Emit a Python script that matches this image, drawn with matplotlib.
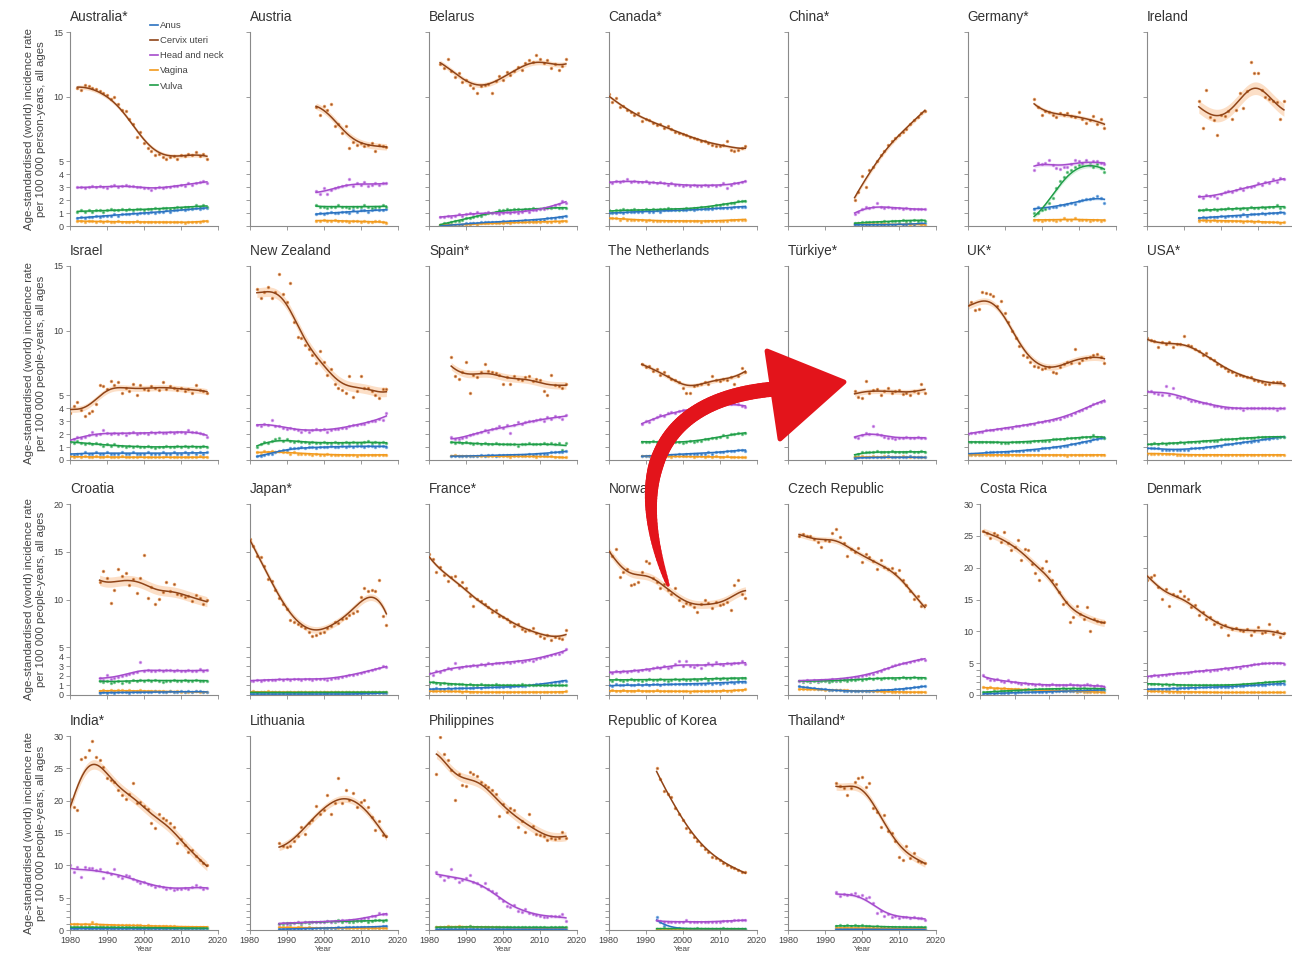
import numpy as np
import matplotlib
matplotlib.use('Agg')
import matplotlib.pyplot as plt
from matplotlib.collections import LineCollection
from matplotlib.patches import Polygon
from matplotlib.lines import Line2D

plt.rcParams['font.family'] = ['Liberation Sans', 'DejaVu Sans']

# %% datos: tasas anuales (por 100 000)

series_nombres = ['Anus', 'Cervix uteri', 'Head and neck', 'Vagina', 'Vulva']
series_claves = ['anus', 'cervix', 'head', 'vagina', 'vulva']

australia = dict(start=1982,
    cervix=[10.7,10.5,10.9,10.8,10.7,10.6,10.4,10.3,10.1,9.8,10.0,9.4,9.0,8.9,8.3,7.9,6.9,7.3,6.4,6.0,5.8,5.5,5.6,5.3,5.2,5.3,5.4,5.2,5.5,5.4,5.6,5.5,5.7,5.4,5.6,5.2],
    head=[3.0,3.0,2.9,3.0,3.1,3.0,3.1,3.0,2.9,3.1,3.2,3.0,3.1,3.2,3.1,3.1,3.0,3.0,2.9,2.9,2.8,2.9,3.0,2.9,3.0,3.0,3.1,3.1,3.2,3.1,3.3,3.2,3.3,3.4,3.5,3.3],
    anus=[0.6,0.7,0.6,0.7,0.7,0.8,0.7,0.8,0.8,0.8,0.9,0.8,0.9,0.9,0.9,1.0,0.9,1.0,1.0,1.0,1.1,1.0,1.1,1.1,1.2,1.1,1.2,1.2,1.3,1.2,1.3,1.3,1.4,1.3,1.4,1.4],
    vagina=[0.4,0.4,0.3,0.4,0.4,0.3,0.4,0.3,0.4,0.3,0.3,0.4,0.3,0.3,0.3,0.3,0.4,0.3,0.3,0.3,0.3,0.3,0.3,0.3,0.3,0.3,0.3,0.3,0.3,0.2,0.3,0.3,0.3,0.3,0.4,0.4],
    vulva=[1.1,1.2,1.1,1.2,1.1,1.2,1.2,1.1,1.2,1.3,1.2,1.2,1.3,1.2,1.3,1.2,1.3,1.3,1.2,1.3,1.3,1.4,1.3,1.4,1.4,1.3,1.4,1.5,1.4,1.5,1.5,1.4,1.6,1.5,1.6,1.5])

austria = dict(start=1998,
    cervix=[9.2,8.6,9.3,9.0,9.4,7.7,7.9,7.2,7.7,6.0,6.5,6.3,6.4,6.2,6.3,6.4,5.8,6.3,6.2,6.1],
    head=[2.7,2.5,2.9,2.5,2.8,2.9,3.0,3.1,3.2,3.6,3.1,3.3,3.2,3.4,3.1,3.2,3.3,3.2,3.3,3.3],
    anus=[0.9,1.0,0.9,1.0,1.1,1.0,1.0,1.1,1.1,1.0,1.2,1.1,1.2,1.2,1.1,1.2,1.3,1.2,1.2,1.3],
    vagina=[0.4,0.4,0.5,0.4,0.4,0.5,0.4,0.4,0.4,0.3,0.4,0.4,0.3,0.4,0.3,0.3,0.4,0.4,0.3,0.2],
    vulva=[1.6,1.5,1.5,1.4,1.5,1.5,1.6,1.5,1.5,1.4,1.5,1.5,1.5,1.6,1.5,1.4,1.5,1.5,1.6,1.5])

belarus = dict(start=1983,
    cervix=[12.5,12.2,12.9,12.0,11.5,11.8,11.1,11.3,10.9,10.7,10.3,10.8,10.9,11.0,10.3,11.2,11.6,11.3,11.9,11.7,12.0,12.3,12.1,12.6,12.8,12.7,13.2,12.9,12.6,12.8,12.2,12.5,12.1,12.4,12.9],
    head=[0.7,0.7,0.8,0.7,0.8,0.9,0.8,0.9,1.0,0.9,1.1,0.9,1.0,1.1,1.0,1.0,0.9,1.0,1.1,1.0,1.1,1.0,1.1,1.2,1.1,1.2,1.2,1.3,1.3,1.4,1.5,1.6,1.7,1.9,1.8],
    anus=[0.0,0.0,0.1,0.1,0.1,0.1,0.1,0.2,0.2,0.2,0.2,0.3,0.3,0.3,0.3,0.3,0.3,0.4,0.3,0.4,0.4,0.4,0.4,0.5,0.4,0.5,0.5,0.5,0.5,0.6,0.6,0.6,0.7,0.7,0.8],
    vagina=[0.1,0.1,0.1,0.1,0.1,0.1,0.1,0.1,0.1,0.2,0.1,0.2,0.2,0.2,0.2,0.2,0.2,0.2,0.3,0.2,0.3,0.3,0.3,0.3,0.3,0.3,0.3,0.3,0.4,0.3,0.3,0.4,0.3,0.4,0.4],
    vulva=[0.1,0.2,0.2,0.3,0.4,0.4,0.5,0.6,0.6,0.7,0.8,0.8,0.9,1.0,1.0,1.1,1.2,1.2,1.3,1.2,1.3,1.3,1.2,1.3,1.3,1.4,1.3,1.3,1.4,1.4,1.4,1.5,1.4,1.4,1.4])

canada = dict(start=1980,
    cervix=[10.2,9.6,9.9,9.2,9.3,9.0,8.8,8.6,8.7,8.1,8.3,8.2,8.0,7.8,7.9,7.6,7.7,7.5,7.3,7.2,7.1,7.0,6.9,6.8,6.7,6.6,6.6,6.4,6.3,6.2,6.2,6.3,6.6,5.9,5.8,5.9,6.0,6.2],
    head=[3.4,3.3,3.5,3.4,3.5,3.6,3.4,3.5,3.4,3.4,3.5,3.3,3.4,3.3,3.4,3.3,3.2,3.3,3.2,3.2,3.1,3.2,3.1,3.2,3.1,3.1,3.2,3.1,3.2,3.1,3.2,3.3,2.9,3.2,3.3,3.3,3.4,3.5],
    anus=[1.0,1.0,1.0,1.1,1.0,1.1,1.1,1.1,1.1,1.1,1.2,1.1,1.1,1.2,1.1,1.2,1.2,1.2,1.2,1.2,1.2,1.2,1.3,1.2,1.3,1.3,1.3,1.3,1.3,1.4,1.4,1.4,1.4,1.4,1.5,1.5,1.5,1.5],
    vagina=[0.6,0.6,0.6,0.5,0.6,0.5,0.5,0.5,0.5,0.5,0.4,0.5,0.4,0.4,0.4,0.4,0.4,0.4,0.4,0.4,0.4,0.4,0.4,0.4,0.4,0.3,0.4,0.4,0.4,0.4,0.4,0.4,0.4,0.5,0.5,0.5,0.5,0.5],
    vulva=[1.2,1.1,1.2,1.2,1.3,1.2,1.2,1.3,1.2,1.2,1.3,1.2,1.3,1.2,1.3,1.3,1.4,1.3,1.3,1.2,1.3,1.4,1.3,1.4,1.4,1.5,1.4,1.5,1.5,1.6,1.6,1.7,1.7,1.8,1.8,1.9,1.9,1.9])

china = dict(start=1998,
    cervix=[2.0,2.6,3.9,3.0,4.3,4.6,5.0,5.5,5.8,6.3,6.6,6.8,7.0,7.3,7.5,7.9,8.2,8.4,8.7,8.9],
    head=[0.9,1.1,1.3,1.5,1.4,1.5,1.8,1.5,1.4,1.5,1.4,1.4,1.4,1.3,1.4,1.3,1.3,1.3,1.3,1.3],
    anus=[0.1,0.1,0.1,0.1,0.1,0.1,0.1,0.1,0.1,0.1,0.1,0.1,0.2,0.1,0.1,0.2,0.1,0.2,0.2,0.2],
    vagina=[0.1,0.2,0.1,0.1,0.1,0.2,0.1,0.1,0.2,0.1,0.1,0.1,0.2,0.1,0.2,0.1,0.1,0.2,0.1,0.1],
    vulva=[0.2,0.2,0.3,0.3,0.3,0.3,0.3,0.3,0.4,0.3,0.4,0.4,0.4,0.5,0.4,0.4,0.5,0.4,0.5,0.4])

germany = dict(start=1998,
    cervix=[9.8,9.2,8.6,8.9,8.8,8.6,8.4,8.7,8.6,8.7,8.5,8.4,8.8,8.3,8.0,8.2,8.5,7.9,8.3,7.6],
    head=[4.3,4.9,4.8,4.9,5.1,4.7,4.5,4.4,4.6,4.6,4.8,5.1,5.0,4.9,5.1,4.7,5.0,5.0,4.9,4.8],
    anus=[1.3,1.5,1.3,1.4,1.4,1.5,1.5,1.6,1.6,1.7,1.8,1.7,1.9,2.0,2.1,2.1,2.2,2.3,2.2,1.8],
    vagina=[0.5,0.5,0.4,0.5,0.5,0.5,0.4,0.5,0.6,0.5,0.5,0.6,0.5,0.5,0.5,0.4,0.5,0.5,0.4,0.5],
    vulva=[1.0,1.0,1.2,1.3,1.8,2.2,2.9,3.5,3.8,4.2,4.3,4.6,4.7,4.8,5.0,4.8,4.6,4.8,4.5,4.2])

ireland = dict(start=1994,
    cervix=[9.7,7.6,10.5,8.4,8.2,7.0,8.6,8.5,8.9,8.3,9.0,10.3,9.1,10.4,12.7,11.8,11.8,10.5,10.0,9.8,9.7,9.6,8.3,9.7],
    head=[2.3,2.2,2.4,2.3,2.3,2.2,2.5,2.6,2.7,2.6,2.8,2.9,2.8,3.0,3.0,3.1,3.3,3.2,3.4,3.3,3.6,3.4,3.7,3.6],
    anus=[0.6,0.7,0.6,0.7,0.7,0.7,0.8,0.7,0.8,0.8,0.8,0.8,0.9,0.8,0.9,0.9,0.9,1.0,0.9,1.0,1.0,1.0,1.1,1.0],
    vagina=[0.4,0.5,0.4,0.4,0.5,0.4,0.4,0.4,0.4,0.4,0.4,0.4,0.3,0.4,0.4,0.3,0.4,0.3,0.3,0.3,0.3,0.3,0.2,0.3],
    vulva=[1.2,1.2,1.3,1.2,1.3,1.2,1.3,1.3,1.4,1.3,1.4,1.3,1.4,1.3,1.5,1.4,1.4,1.5,1.4,1.5,1.5,1.6,1.4,1.5])

israel = dict(start=1980,
    cervix=[3.6,4.2,4.5,3.9,3.4,3.6,3.8,4.3,5.8,5.7,5.5,6.1,5.8,6.0,5.2,5.6,5.3,5.9,5.0,5.8,5.5,5.4,5.7,5.6,5.4,6.0,5.5,5.7,5.6,5.4,5.6,5.3,5.5,5.2,5.8,5.4,5.3,5.2],
    head=[1.5,1.6,1.8,1.7,1.8,1.9,2.2,1.9,2.0,2.3,2.1,2.0,2.1,2.0,2.1,1.9,2.1,2.2,2.0,2.1,2.1,2.0,2.2,2.1,2.2,2.1,2.1,2.2,2.1,2.2,2.2,2.1,2.3,2.2,2.2,2.1,2.0,1.8],
    anus=[0.5,0.4,0.5,0.5,0.6,0.5,0.5,0.6,0.5,0.5,0.6,0.5,0.5,0.5,0.6,0.5,0.5,0.6,0.5,0.5,0.5,0.6,0.5,0.5,0.5,0.6,0.5,0.5,0.6,0.5,0.5,0.6,0.5,0.6,0.5,0.6,0.5,0.6],
    vagina=[0.3,0.2,0.3,0.2,0.3,0.2,0.2,0.3,0.2,0.2,0.3,0.2,0.2,0.2,0.3,0.2,0.2,0.2,0.2,0.3,0.2,0.2,0.2,0.2,0.2,0.2,0.3,0.2,0.2,0.2,0.2,0.2,0.2,0.2,0.2,0.3,0.2,0.2],
    vulva=[1.4,1.3,1.5,1.3,1.2,1.3,1.2,1.3,1.2,1.1,1.2,1.1,1.2,1.1,1.1,1.0,1.1,1.0,1.1,1.0,1.0,1.1,1.0,0.9,1.0,1.0,1.1,1.0,1.0,1.1,1.0,1.1,1.0,1.1,1.0,1.0,1.1,1.0])

new_zealand = dict(start=1982,
    cervix=[13.2,12.5,13.0,13.4,12.5,13.0,14.4,12.8,12.2,13.7,10.7,9.5,9.4,8.9,8.6,8.1,7.5,8.4,7.6,6.6,7.0,5.9,5.6,5.4,5.2,6.5,4.9,5.3,6.5,5.6,5.6,5.3,5.0,4.8,5.5,5.5],
    head=[2.7,2.6,2.8,2.7,3.1,2.6,2.6,2.5,2.4,2.5,2.4,2.3,2.2,2.3,2.2,2.3,2.4,2.3,2.4,2.2,2.3,2.4,2.4,2.5,2.5,2.6,2.7,2.7,2.8,2.8,2.9,3.0,3.0,3.2,3.1,3.6],
    anus=[0.3,0.3,0.4,0.5,0.5,0.6,0.7,0.8,0.8,0.9,0.9,0.9,1.0,0.9,1.0,1.0,0.9,1.0,1.0,1.0,1.1,1.0,1.0,1.1,1.0,1.1,1.0,1.1,1.1,1.0,1.1,1.1,1.0,1.1,1.1,1.0],
    vagina=[0.6,0.5,0.7,0.6,0.7,0.6,0.7,0.6,0.6,0.5,0.6,0.5,0.5,0.5,0.5,0.4,0.5,0.4,0.4,0.5,0.4,0.4,0.4,0.4,0.4,0.4,0.4,0.3,0.4,0.4,0.4,0.4,0.4,0.4,0.4,0.4],
    vulva=[1.0,1.2,1.4,1.3,1.5,1.6,1.7,1.5,1.6,1.5,1.4,1.5,1.4,1.4,1.3,1.4,1.3,1.3,1.4,1.3,1.3,1.4,1.3,1.3,1.4,1.3,1.4,1.3,1.3,1.4,1.5,1.3,1.4,1.3,1.4,1.3])

spain = dict(start=1986,
    cervix=[8.0,6.5,6.3,6.8,7.6,5.2,6.6,6.4,6.8,7.4,6.9,6.8,6.7,6.6,5.9,6.4,5.9,6.5,6.3,6.2,6.4,6.5,6.1,6.3,6.2,5.3,5.0,6.6,5.8,5.7,5.6,5.9],
    head=[1.8,1.6,1.6,1.7,1.8,1.9,2.0,2.1,2.2,2.3,2.2,2.4,2.5,2.6,2.5,2.7,2.1,2.7,2.9,2.8,2.9,3.0,3.0,3.1,3.2,3.0,3.3,3.2,3.4,3.3,3.2,3.5],
    anus=[0.3,0.3,0.3,0.3,0.3,0.3,0.3,0.3,0.4,0.3,0.4,0.4,0.3,0.4,0.4,0.4,0.4,0.4,0.4,0.4,0.4,0.5,0.4,0.5,0.5,0.5,0.5,0.6,0.6,0.6,0.6,0.7],
    vagina=[0.3,0.4,0.3,0.3,0.3,0.3,0.3,0.3,0.3,0.3,0.3,0.3,0.3,0.3,0.3,0.3,0.2,0.3,0.3,0.3,0.3,0.3,0.3,0.2,0.3,0.3,0.3,0.3,0.2,0.2,0.2,0.2],
    vulva=[1.4,1.3,1.4,1.3,1.4,1.3,1.2,1.3,1.2,1.3,1.2,1.2,1.3,1.2,1.2,1.2,1.2,1.2,1.1,1.2,1.2,1.3,1.2,1.2,1.2,1.3,1.2,1.3,1.2,1.3,0.8,1.3])

netherlands = dict(start=1989,
    cervix=[7.4,7.2,7.3,6.9,7.0,6.6,6.8,6.5,6.3,6.2,6.0,5.6,5.2,5.2,5.7,5.8,5.9,6.0,5.9,6.5,6.2,6.1,6.3,6.2,6.4,5.9,6.5,7.1,6.8],
    head=[2.8,3.0,2.9,3.2,3.3,3.5,3.4,3.6,3.7,3.6,3.8,3.9,3.8,3.9,4.0,4.1,4.0,4.1,4.2,4.1,4.3,4.2,4.3,4.4,4.3,4.4,4.3,4.2,4.1],
    anus=[0.3,0.3,0.3,0.4,0.3,0.4,0.4,0.4,0.4,0.4,0.5,0.4,0.5,0.5,0.5,0.5,0.5,0.5,0.6,0.5,0.6,0.6,0.6,0.7,0.7,0.7,0.8,0.8,0.7],
    vagina=[0.3,0.3,0.3,0.3,0.3,0.3,0.3,0.3,0.2,0.3,0.3,0.3,0.3,0.3,0.2,0.3,0.3,0.2,0.3,0.2,0.3,0.2,0.2,0.3,0.2,0.2,0.2,0.2,0.2],
    vulva=[1.4,1.4,1.4,1.5,1.4,1.3,1.4,1.4,1.3,1.4,1.4,1.3,1.4,1.5,1.4,1.5,1.5,1.6,1.6,1.7,1.7,1.8,1.9,1.8,2.0,2.0,2.1,2.0,2.1])

turkiye = dict(start=1998,
    cervix=[5.3,4.9,4.8,6.1,5.2,5.4,5.5,5.0,5.3,5.6,5.2,5.3,5.4,5.1,5.2,5.0,5.3,5.2,5.9,5.2],
    head=[1.8,1.7,1.9,2.1,2.0,2.6,2.0,1.9,1.8,1.7,1.7,1.6,1.7,1.7,1.8,1.7,1.7,1.8,1.7,1.7],
    anus=[0.1,0.2,0.2,0.2,0.2,0.2,0.2,0.2,0.2,0.3,0.2,0.2,0.2,0.2,0.2,0.3,0.2,0.2,0.2,0.2],
    vagina=[0.2,0.2,0.3,0.2,0.2,0.3,0.2,0.2,0.3,0.2,0.2,0.2,0.2,0.3,0.2,0.2,0.2,0.2,0.2,0.2],
    vulva=[0.3,0.5,0.6,0.6,0.6,0.6,0.7,0.6,0.6,0.6,0.7,0.6,0.6,0.6,0.6,0.7,0.6,0.6,0.7,0.6])

uk = dict(start=1980,
    cervix=[12.0,12.2,11.6,11.7,13.0,12.9,12.8,12.7,11.9,12.3,11.4,10.7,10.0,9.4,8.8,8.1,8.0,7.6,7.3,7.2,7.0,7.1,7.2,6.8,6.7,7.2,7.4,7.6,7.5,8.6,7.5,7.7,7.9,8.0,8.1,8.2,8.0,7.5],
    head=[2.0,2.1,2.1,2.2,2.2,2.3,2.3,2.3,2.4,2.4,2.5,2.5,2.5,2.6,2.6,2.7,2.7,2.8,2.8,2.9,2.9,3.0,3.0,3.1,3.2,3.2,3.3,3.4,3.5,3.6,3.8,3.9,4.0,4.2,4.3,4.4,4.5,4.6],
    anus=[0.5,0.5,0.5,0.5,0.5,0.6,0.6,0.6,0.6,0.6,0.6,0.6,0.7,0.7,0.7,0.7,0.8,0.8,0.8,0.8,0.9,0.9,0.9,1.0,1.0,1.0,1.1,1.1,1.2,1.2,1.3,1.4,1.4,1.5,1.6,1.6,1.7,1.7],
    vagina=[0.4,0.4,0.4,0.4,0.4,0.4,0.4,0.4,0.4,0.4,0.4,0.4,0.4,0.4,0.4,0.4,0.4,0.4,0.4,0.4,0.4,0.4,0.4,0.4,0.4,0.4,0.4,0.3,0.4,0.4,0.4,0.4,0.4,0.4,0.4,0.4,0.4,0.4],
    vulva=[1.4,1.4,1.4,1.4,1.4,1.4,1.4,1.4,1.4,1.3,1.3,1.3,1.4,1.4,1.4,1.4,1.4,1.4,1.5,1.5,1.5,1.5,1.5,1.6,1.6,1.6,1.6,1.7,1.7,1.7,1.7,1.8,1.8,1.8,1.9,1.8,1.8,1.7])

usa = dict(start=1980,
    cervix=[9.4,9.3,9.2,8.7,9.1,9.0,9.1,8.7,9.0,9.0,9.6,8.9,8.8,8.6,8.4,8.1,8.3,7.9,7.7,7.4,7.3,7.1,6.9,6.8,6.6,6.6,6.5,6.4,6.4,6.2,6.1,6.0,5.9,5.9,6.0,6.0,6.0,5.8],
    head=[5.3,5.3,5.2,5.1,5.0,5.7,5.0,5.6,4.9,4.8,4.9,4.7,4.6,4.6,4.5,4.4,4.4,4.3,4.2,4.2,4.1,4.0,4.0,4.0,4.0,4.0,3.9,4.0,4.0,4.0,4.0,4.0,4.0,4.0,4.0,3.9,4.0,4.0],
    anus=[0.9,0.9,0.9,0.9,0.8,0.8,0.8,0.8,0.8,0.8,0.8,0.8,0.9,0.9,0.9,0.9,1.0,1.0,1.0,1.1,1.1,1.2,1.2,1.2,1.3,1.3,1.4,1.4,1.4,1.5,1.5,1.6,1.6,1.6,1.7,1.7,1.8,1.8],
    vagina=[0.5,0.5,0.5,0.5,0.5,0.5,0.5,0.5,0.4,0.4,0.4,0.4,0.4,0.4,0.4,0.4,0.4,0.4,0.4,0.4,0.4,0.4,0.4,0.4,0.4,0.4,0.4,0.4,0.4,0.4,0.4,0.4,0.4,0.4,0.4,0.4,0.4,0.4],
    vulva=[1.2,1.2,1.3,1.2,1.3,1.2,1.3,1.3,1.3,1.4,1.3,1.4,1.4,1.4,1.4,1.5,1.5,1.5,1.5,1.5,1.6,1.6,1.6,1.6,1.6,1.7,1.7,1.7,1.7,1.7,1.8,1.8,1.8,1.8,1.8,1.8,1.8,1.8])

croatia = dict(start=1988,
    cervix=[11.8,13.0,12.2,9.6,11.0,13.2,12.5,12.8,11.5,12.1,10.7,12.3,14.7,10.2,11.3,9.5,10.1,10.8,11.8,10.9,11.6,10.6,10.5,10.3,10.4,9.8,10.5,10.2,9.5,9.9],
    head=[1.8,1.6,2.1,1.7,1.8,1.9,2.0,2.1,2.2,2.3,2.4,3.5,2.5,2.6,2.5,2.5,2.6,2.5,2.6,2.6,2.5,2.6,2.5,2.5,2.6,2.5,2.5,2.7,2.5,2.6],
    anus=[0.2,0.3,0.2,0.3,0.2,0.3,0.3,0.3,0.2,0.3,0.3,0.3,0.3,0.3,0.3,0.4,0.3,0.3,0.3,0.4,0.3,0.3,0.4,0.3,0.4,0.3,0.4,0.4,0.3,0.3],
    vagina=[0.4,0.5,0.4,0.5,0.4,0.5,0.5,0.4,0.5,0.4,0.4,0.5,0.4,0.4,0.4,0.4,0.4,0.4,0.3,0.4,0.3,0.4,0.3,0.3,0.3,0.3,0.4,0.3,0.3,0.3],
    vulva=[1.5,1.4,1.5,1.3,1.4,1.5,1.3,1.5,1.4,1.6,1.5,1.6,1.5,1.6,1.5,1.6,1.5,1.4,1.5,1.5,1.6,1.5,1.5,1.6,1.5,1.5,1.6,1.5,1.5,1.5])

japan = dict(start=1980,
    cervix=[16.3,15.6,14.6,14.4,13.5,12.1,11.9,11.0,10.2,9.5,9.0,7.9,7.6,7.4,7.2,7.0,6.6,6.2,6.3,6.5,6.6,7.0,7.2,7.6,7.5,8.0,8.1,8.4,8.6,8.8,10.3,11.2,10.9,11.0,10.9,12.0,8.3,7.3],
    head=[1.5,1.5,1.6,1.5,1.6,1.6,1.6,1.6,1.7,1.6,1.7,1.6,1.7,1.7,1.6,1.7,1.7,1.6,1.7,1.7,1.7,1.6,1.7,1.8,1.8,1.9,2.0,2.1,2.1,2.2,2.3,2.4,2.5,2.6,2.7,2.8,3.0,2.9],
    anus=[0.1,0.1,0.1,0.1,0.1,0.1,0.1,0.1,0.1,0.1,0.1,0.1,0.1,0.1,0.1,0.1,0.1,0.1,0.1,0.1,0.1,0.1,0.1,0.1,0.1,0.1,0.1,0.1,0.1,0.1,0.1,0.2,0.1,0.2,0.2,0.2,0.2,0.2],
    vagina=[0.3,0.4,0.3,0.3,0.3,0.4,0.3,0.3,0.3,0.3,0.3,0.3,0.3,0.3,0.3,0.3,0.3,0.3,0.3,0.3,0.3,0.3,0.3,0.3,0.3,0.3,0.3,0.3,0.3,0.2,0.3,0.3,0.3,0.3,0.3,0.3,0.2,0.3],
    vulva=[0.3,0.3,0.2,0.3,0.3,0.2,0.3,0.3,0.3,0.2,0.3,0.3,0.2,0.3,0.3,0.3,0.2,0.3,0.3,0.3,0.3,0.2,0.3,0.3,0.3,0.3,0.3,0.3,0.3,0.3,0.3,0.3,0.3,0.3,0.3,0.3,0.3,0.3])

france = dict(start=1980,
    cervix=[14.8,14.2,12.9,13.4,12.6,11.9,12.4,12.5,11.5,11.8,11.2,10.4,9.3,10.1,9.8,9.5,9.2,8.7,8.9,8.3,8.2,8.0,7.6,7.2,7.4,6.9,6.7,6.8,7.0,6.5,6.2,6.0,6.3,5.8,6.1,6.0,5.9,6.8],
    head=[2.3,2.1,2.5,2.4,2.6,2.8,2.7,3.3,2.8,2.9,3.0,3.0,3.1,3.0,3.2,3.1,3.3,3.2,3.4,3.3,3.4,3.5,3.4,3.5,3.6,3.5,3.6,3.7,3.6,3.8,3.9,4.0,4.1,4.2,4.3,4.3,4.5,4.8],
    anus=[0.6,0.6,0.7,0.6,0.6,0.7,0.6,0.7,0.7,0.7,0.7,0.7,0.7,0.8,0.7,0.8,0.8,0.8,0.8,0.8,0.8,0.9,0.8,0.9,0.9,0.9,0.9,1.0,1.0,1.1,1.1,1.2,1.2,1.3,1.4,1.4,1.5,1.5],
    vagina=[0.4,0.4,0.4,0.4,0.4,0.4,0.4,0.4,0.4,0.3,0.4,0.3,0.3,0.3,0.3,0.3,0.3,0.3,0.3,0.3,0.3,0.3,0.3,0.3,0.3,0.3,0.3,0.3,0.3,0.3,0.3,0.3,0.3,0.3,0.3,0.3,0.3,0.4],
    vulva=[1.3,1.4,1.3,1.2,1.3,1.2,1.1,1.2,1.1,1.1,1.0,1.1,1.0,1.0,1.1,1.0,1.0,1.0,1.1,1.0,1.0,1.0,1.0,1.0,1.0,1.1,1.0,1.0,1.0,1.0,1.0,1.0,1.0,1.0,1.0,1.0,1.0,1.0])

norway = dict(start=1980,
    cervix=[15.0,14.6,15.3,12.4,12.9,13.2,11.5,11.6,11.8,12.9,14.0,13.8,12.2,11.8,11.2,11.6,11.0,10.6,11.2,10.0,9.3,9.6,9.5,9.2,8.7,9.5,10.0,9.6,9.1,9.7,9.4,9.5,9.7,8.9,11.5,12.0,10.6,10.2],
    head=[2.4,2.3,2.5,2.4,2.5,2.4,2.5,2.6,2.5,2.6,2.7,2.6,2.8,2.9,2.8,3.0,2.8,2.9,3.2,3.6,3.0,3.6,3.0,2.9,3.1,2.8,3.1,3.4,3.1,3.5,3.2,3.1,3.3,3.2,3.4,3.3,3.6,3.2],
    anus=[1.0,0.9,1.1,1.0,1.0,1.1,1.0,1.0,1.1,1.0,1.1,1.0,1.1,1.1,1.0,1.1,1.1,1.2,1.1,1.1,1.2,1.1,1.2,1.2,1.1,1.2,1.2,1.3,1.2,1.3,1.2,1.3,1.3,1.4,1.3,1.4,1.4,1.4],
    vagina=[0.4,0.5,0.4,0.4,0.5,0.4,0.4,0.4,0.5,0.4,0.4,0.4,0.4,0.5,0.4,0.4,0.4,0.4,0.4,0.4,0.4,0.4,0.3,0.4,0.4,0.4,0.4,0.4,0.4,0.4,0.4,0.5,0.4,0.4,0.5,0.5,0.5,0.6],
    vulva=[1.6,1.5,1.7,1.6,1.5,1.6,1.7,1.6,1.6,1.5,1.6,1.7,1.6,1.6,1.7,1.6,1.5,1.6,1.7,1.6,1.7,1.6,1.6,1.7,1.6,1.7,1.8,1.6,1.7,1.8,1.7,1.8,1.7,1.8,1.8,1.7,1.8,1.8])

czech = dict(start=1983,
    cervix=[16.6,16.9,16.7,16.6,16.3,16.0,15.5,16.2,16.1,17.0,17.4,16.5,15.9,14.6,15.3,15.0,15.4,13.9,14.8,14.4,14.0,13.2,14.1,13.4,13.2,13.3,12.8,13.1,12.0,11.5,10.9,10.1,10.4,9.3,9.4],
    head=[1.5,1.5,1.6,1.5,1.6,1.5,1.6,1.6,1.6,1.7,1.6,1.7,1.7,1.8,1.8,1.9,1.9,2.0,2.1,2.2,2.2,2.4,2.5,2.7,2.8,3.0,3.1,3.2,3.3,3.4,3.5,3.6,3.7,3.8,3.7],
    anus=[0.9,0.8,0.8,0.7,0.7,0.6,0.6,0.6,0.5,0.5,0.5,0.5,0.4,0.4,0.4,0.4,0.4,0.4,0.4,0.4,0.4,0.5,0.5,0.5,0.5,0.5,0.6,0.6,0.6,0.7,0.7,0.8,0.8,0.9,0.9],
    vagina=[0.6,0.6,0.6,0.6,0.6,0.6,0.6,0.5,0.5,0.5,0.5,0.5,0.5,0.5,0.4,0.4,0.4,0.4,0.4,0.4,0.4,0.4,0.4,0.3,0.4,0.3,0.3,0.3,0.3,0.3,0.3,0.3,0.3,0.3,0.3],
    vulva=[1.5,1.4,1.5,1.4,1.5,1.4,1.5,1.5,1.4,1.5,1.5,1.5,1.6,1.5,1.6,1.6,1.7,1.6,1.7,1.8,1.7,1.8,1.7,1.8,1.8,1.8,1.7,1.8,1.9,1.8,1.8,1.9,1.8,1.8,1.8])

costa_rica = dict(start=1981,
    cervix=[25.8,25.5,24.6,25.4,25.1,24.1,25.6,23.8,22.8,23.3,24.3,21.2,23.0,22.8,20.5,19.2,18.1,19.9,21.1,19.4,18.0,17.4,16.2,14.3,14.6,11.4,12.2,14.0,12.8,12.0,13.8,10.0,11.9,11.7,11.4,11.5],
    head=[3.2,2.6,2.4,2.3,2.5,2.2,2.1,2.3,2.0,2.1,1.9,1.8,1.9,1.7,1.8,1.6,1.7,1.5,1.6,1.5,1.7,1.5,1.5,1.6,1.5,1.8,1.5,1.6,1.4,1.5,1.7,1.5,1.4,1.5,1.4,1.3],
    anus=[0.2,0.2,0.3,0.2,0.3,0.3,0.3,0.3,0.4,0.3,0.4,0.4,0.4,0.5,0.4,0.5,0.5,0.5,0.5,0.6,0.5,0.6,0.6,0.6,0.6,0.6,0.7,0.6,0.7,0.7,0.7,0.7,0.8,0.7,0.8,0.8],
    vagina=[1.2,1.1,1.2,1.0,1.1,1.0,1.1,0.9,1.0,0.9,0.9,0.8,0.9,0.8,0.8,0.8,0.7,0.8,0.7,0.7,0.7,0.6,0.7,0.6,0.6,0.6,0.6,0.5,0.6,0.5,0.5,0.5,0.5,0.5,0.5,0.4],
    vulva=[0.4,0.5,0.5,0.6,0.5,0.6,0.7,0.6,0.7,0.8,0.7,0.8,0.8,0.9,0.8,0.9,0.9,1.0,0.9,1.0,1.0,0.9,1.0,1.1,1.0,1.0,1.1,1.0,1.0,1.1,1.0,1.0,1.1,1.0,1.0,1.0])

denmark = dict(start=1980,
    cervix=[18.1,18.5,18.9,16.9,15.1,16.6,14.0,15.8,15.5,16.3,15.6,15.1,13.8,14.2,12.5,13.0,12.0,12.3,11.2,11.5,10.7,11.0,9.4,10.4,10.6,10.2,10.0,10.3,9.4,10.1,10.7,9.8,9.9,11.2,9.6,10.0,9.1,9.8],
    head=[2.9,3.0,3.1,3.0,3.2,3.2,3.3,3.3,3.4,3.5,3.5,3.5,3.6,3.7,3.7,3.8,3.9,3.8,4.0,4.0,4.1,4.2,4.1,4.3,4.4,4.3,4.5,4.6,4.7,4.8,4.9,5.0,5.0,5.1,5.0,5.1,5.0,4.9],
    anus=[0.9,0.9,1.0,0.9,1.0,1.0,1.0,1.1,1.0,1.1,1.1,1.1,1.2,1.1,1.2,1.2,1.2,1.2,1.3,1.2,1.3,1.3,1.3,1.3,1.4,1.4,1.4,1.5,1.5,1.5,1.6,1.6,1.6,1.7,1.7,1.8,1.8,1.8],
    vagina=[0.6,0.6,0.6,0.6,0.5,0.6,0.5,0.5,0.5,0.5,0.5,0.5,0.5,0.4,0.5,0.4,0.4,0.4,0.4,0.4,0.4,0.4,0.4,0.4,0.4,0.4,0.4,0.4,0.4,0.4,0.4,0.4,0.4,0.4,0.4,0.4,0.4,0.4],
    vulva=[1.8,1.7,1.8,1.7,1.6,1.7,1.6,1.7,1.6,1.5,1.6,1.5,1.6,1.5,1.5,1.6,1.5,1.5,1.6,1.5,1.5,1.6,1.5,1.6,1.6,1.6,1.7,1.7,1.8,1.8,1.9,1.9,2.0,2.0,2.1,2.1,2.1,2.2])

india = dict(start=1980,
    cervix=[20.3,19.0,18.6,26.5,26.8,27.8,29.3,26.8,26.3,25.2,23.5,23.2,22.9,21.6,20.9,20.2,21.0,22.7,19.6,19.8,19.2,18.7,16.6,15.7,18.0,17.3,17.0,16.5,16.0,13.4,14.0,13.2,12.1,12.3,11.5,10.9,10.3,10.0],
    head=[10.0,9.0,9.8,8.2,9.7,9.6,9.6,9.3,9.4,8.1,9.0,8.6,9.5,8.4,8.0,8.5,8.3,7.9,7.6,7.3,7.5,7.1,6.9,6.7,6.8,6.6,6.3,6.5,6.2,6.4,6.4,6.5,6.4,6.6,7.0,6.6,6.3,6.5],
    anus=[0.2,0.2,0.2,0.3,0.2,0.2,0.2,0.2,0.2,0.2,0.2,0.2,0.2,0.2,0.2,0.2,0.3,0.2,0.2,0.2,0.2,0.2,0.2,0.2,0.2,0.2,0.2,0.2,0.2,0.2,0.2,0.2,0.2,0.2,0.2,0.2,0.2,0.2],
    vagina=[0.9,0.9,1.0,0.8,0.9,0.8,1.3,0.9,0.8,0.8,0.8,0.8,0.7,0.8,0.7,0.7,0.7,0.8,0.7,0.7,0.6,0.7,0.6,0.6,0.6,0.6,0.6,0.6,0.6,0.5,0.5,0.5,0.5,0.5,0.5,0.5,0.5,0.5],
    vulva=[0.4,0.5,0.4,0.4,0.5,0.4,0.4,0.5,0.4,0.4,0.4,0.4,0.4,0.4,0.4,0.4,0.4,0.4,0.4,0.4,0.4,0.4,0.3,0.4,0.4,0.3,0.4,0.3,0.4,0.3,0.3,0.3,0.3,0.3,0.3,0.3,0.3,0.3])

lithuania = dict(start=1988,
    cervix=[13.5,13.0,12.9,13.0,13.8,14.5,15.9,14.9,16.5,17.0,19.1,18.0,18.6,20.9,18.0,19.6,23.5,19.6,21.6,20.1,21.2,19.0,19.8,20.1,19.0,17.5,15.5,16.8,14.7,14.5],
    head=[1.0,1.1,1.0,1.1,1.1,1.2,1.1,1.2,1.2,1.3,1.2,1.3,1.3,1.4,1.3,1.4,1.4,1.5,1.4,1.5,1.5,1.6,1.7,1.8,1.9,2.1,2.2,2.6,2.4,2.4],
    anus=[0.1,0.2,0.1,0.2,0.2,0.2,0.2,0.2,0.3,0.2,0.3,0.3,0.3,0.3,0.3,0.3,0.4,0.3,0.4,0.4,0.4,0.4,0.4,0.5,0.4,0.5,0.5,0.5,0.6,0.6],
    vagina=[0.4,0.4,0.4,0.4,0.3,0.4,0.4,0.3,0.4,0.3,0.3,0.3,0.3,0.3,0.3,0.3,0.3,0.3,0.3,0.3,0.3,0.3,0.3,0.3,0.2,0.3,0.3,0.2,0.3,0.3],
    vulva=[1.0,0.9,1.1,1.0,1.1,1.2,1.0,1.2,1.1,1.2,1.3,1.2,1.3,1.4,1.2,1.3,1.5,1.3,1.4,1.3,1.3,1.4,1.4,1.5,1.3,1.4,1.5,1.6,1.4,1.5])

philippines = dict(start=1982,
    cervix=[24.1,29.8,27.2,26.3,24.7,20.1,24.2,22.4,22.3,24.5,24.2,23.8,22.9,22.5,22.1,21.6,21.0,17.6,19.5,18.3,18.8,18.6,16.0,16.8,15.2,18.0,16.1,14.9,14.7,14.5,13.9,14.2,14.0,14.3,15.1,14.3],
    head=[9.0,8.4,7.7,8.2,9.5,8.0,7.4,7.7,8.0,8.5,7.4,7.2,6.8,7.3,6.4,6.0,5.7,5.0,4.5,3.7,3.5,3.8,3.0,2.8,3.2,2.6,2.5,2.3,2.1,2.0,2.0,2.2,2.1,2.2,2.4,1.4],
    anus=[0.1,0.1,0.2,0.1,0.1,0.1,0.1,0.2,0.1,0.1,0.1,0.1,0.2,0.1,0.1,0.1,0.1,0.1,0.2,0.1,0.1,0.1,0.1,0.1,0.1,0.1,0.2,0.1,0.1,0.1,0.1,0.1,0.1,0.1,0.2,0.1],
    vagina=[0.5,0.4,0.5,0.6,0.5,0.5,0.6,0.5,0.5,0.6,0.5,0.5,0.4,0.5,0.4,0.4,0.4,0.4,0.3,0.4,0.3,0.3,0.3,0.3,0.3,0.3,0.3,0.3,0.3,0.3,0.3,0.3,0.3,0.3,0.3,0.3],
    vulva=[0.4,0.5,0.4,0.5,0.4,0.5,0.5,0.4,0.5,0.6,0.5,0.5,0.4,0.5,0.4,0.5,0.4,0.4,0.4,0.5,0.4,0.4,0.4,0.4,0.5,0.4,0.4,0.4,0.4,0.4,0.3,0.4,0.4,0.5,0.4,0.4])

korea = dict(start=1993,
    cervix=[25.0,23.3,21.5,21.1,20.5,18.9,18.0,17.0,15.7,15.2,14.4,13.8,13.2,12.6,12.0,11.3,11.1,10.9,10.4,10.1,9.8,9.6,9.3,9.0,8.9],
    head=[1.5,1.4,1.3,1.3,1.2,1.2,1.3,1.2,1.5,1.3,1.2,1.2,1.2,1.3,1.2,1.3,1.3,1.3,1.4,1.4,1.4,1.5,1.5,1.5,1.5],
    anus=[2.0,1.2,0.6,0.2,0.2,0.2,0.2,0.2,0.2,0.2,0.2,0.2,0.2,0.2,0.2,0.2,0.2,0.2,0.2,0.2,0.2,0.2,0.2,0.2,0.2],
    vagina=[0.1,0.1,0.1,0.1,0.1,0.1,0.1,0.1,0.1,0.1,0.1,0.1,0.1,0.1,0.1,0.1,0.1,0.1,0.1,0.1,0.1,0.1,0.1,0.1,0.1],
    vulva=[0.2,0.2,0.3,0.2,0.2,0.2,0.3,0.2,0.2,0.2,0.2,0.3,0.2,0.2,0.2,0.2,0.2,0.2,0.3,0.2,0.2,0.2,0.2,0.2,0.2])

thailand = dict(start=1993,
    cervix=[22.7,22.3,21.9,20.9,22.0,22.9,23.5,23.7,22.1,22.7,18.8,18.3,16.0,17.8,15.3,15.0,13.8,11.3,10.8,13.0,11.1,11.9,10.6,10.5,10.4],
    head=[5.8,5.2,5.5,5.4,5.6,5.7,5.3,5.4,5.0,5.1,4.1,2.6,3.0,2.2,2.4,2.0,2.1,1.9,2.0,2.0,1.9,2.0,1.9,1.8,1.6],
    anus=[0.1,0.1,0.1,0.1,0.2,0.1,0.1,0.1,0.1,0.1,0.1,0.1,0.1,0.1,0.1,0.1,0.1,0.1,0.1,0.1,0.1,0.1,0.1,0.1,0.1],
    vagina=[0.3,0.3,0.4,0.3,0.3,0.3,0.3,0.3,0.3,0.3,0.3,0.3,0.3,0.2,0.3,0.2,0.2,0.3,0.2,0.2,0.2,0.2,0.2,0.2,0.2],
    vulva=[0.6,0.7,0.6,0.7,0.6,0.7,0.6,0.8,0.6,0.6,0.5,0.6,0.5,0.5,0.5,0.5,0.5,0.4,0.5,0.4,0.5,0.4,0.4,0.5,0.4])

# disposicion de paneles (filas de la figura)
filas = [
    [('Australia*', australia), ('Austria', austria), ('Belarus', belarus), ('Canada*', canada),
     ('China*', china), ('Germany*', germany), ('Ireland', ireland)],
    [('Israel', israel), ('New Zealand', new_zealand), ('Spain*', spain), ('The Netherlands', netherlands),
     ('Türkiye*', turkiye), ('UK*', uk), ('USA*', usa)],
    [('Croatia', croatia), ('Japan*', japan), ('France*', france), ('Norway', norway),
     ('Czech Republic', czech), ('Costa Rica', costa_rica), ('Denmark', denmark)],
    [('India*', india), ('Lithuania', lithuania), ('Philippines', philippines),
     ('Republic of Korea', korea), ('Thailand*', thailand)],
]
ymax_filas = [[15]*7, [15]*7, [20, 20, 20, 20, 20, 30, 30], [30]*5]

ylabel_1 = 'Age-standardised (world) incidence rate\nper 100 000 person-years, all ages'
ylabel_2 = 'Age-standardised (world) incidence rate\nper 100 000 people-years, all ages'

colores = {'anus': '#2b72c0', 'cervix': '#8f4418', 'head': '#a54ccc',
           'vagina': '#f29a1c', 'vulva': '#1f9d48'}
bandas = {'anus': '#8cbcec', 'cervix': '#f7a560', 'head': '#dba6f2',
          'vagina': '#fbc77d', 'vulva': '#90d8a4'}

# %% suavizado local (gauss) para la curva de tendencia

def suavizar(x, y, bw=3.2):
    xs = np.linspace(x[0], x[-1], 200)
    ys = []
    for x0 in xs:
        w = np.exp(-0.5*((x - x0)/bw)**2)
        ys.append(np.polyfit(x - x0, y, 1, w=np.sqrt(w))[-1])
    return xs, np.array(ys)


def dibujar(ax, d):
    for k in ['vagina', 'anus', 'vulva', 'head', 'cervix']:
        y = np.array(d[k], float)
        x = d['start'] + np.arange(len(y))
        xs, ys = suavizar(x, y)
        s = np.std(y - np.interp(x, xs, ys))
        hw = 0.5*s + 0.05
        ax.fill_between(xs, ys - hw, ys + hw, color=bandas[k], alpha=0.35, lw=0, zorder=1)
        ax.plot(x, y, 'o', ms=2.0, color=colores[k], mec=bandas[k], mew=0.5, alpha=0.9, zorder=2)
        ax.plot(xs, ys, color=colores[k], lw=1.1, zorder=3)


# %% figura

W, H = 1292, 957
fig = plt.figure(figsize=(W/100, H/100), dpi=100)

tops = [32, 266, 504, 736]
bottoms = [226, 460, 695, 930]

for r, fila in enumerate(filas):
    for c, (nombre, d) in enumerate(fila):
        left, width = 70 + 179.5*c, 148
        if nombre == 'Costa Rica':
            left, width = 980, 138
        ax = fig.add_axes([left/W, 1 - bottoms[r]/H, width/W, (bottoms[r] - tops[r])/H])
        ymax = ymax_filas[r][c]
        dibujar(ax, d)
        ax.set_xlim(1980, 2020)
        ax.set_ylim(0, ymax)
        ax.set_xticks([1980, 1990, 2000, 2010, 2020])
        if ymax == 30:
            ax.set_yticks([0, 5, 10, 15, 20, 25, 30])
            ax.set_yticks([1, 2, 3, 4], minor=True)
        else:
            ax.set_yticks([0, 1, 2, 3, 4, 5] + list(range(10, ymax + 1, 5)))
        for sp in ['top', 'right']:
            ax.spines[sp].set_visible(False)
        for sp in ['left', 'bottom']:
            ax.spines[sp].set_color('#8a8a8a')
            ax.spines[sp].set_linewidth(0.8)
        ax.tick_params(which='both', length=3, width=0.6, color='#8a8a8a',
                       labelsize=6.5, labelcolor='#444444', pad=1.5)
        if not (c == 0 or nombre == 'Costa Rica'):
            ax.tick_params(labelleft=False)
        if r < 3:
            ax.tick_params(labelbottom=False)
        else:
            ax.set_xlabel('Year', fontsize=6, color='#444444', labelpad=0.5)
        ax.text(0.0, 1.04, nombre, transform=ax.transAxes, fontsize=9.8,
                color='#333333', ha='left', va='bottom')
        if r == 0 and c == 0:
            handles = [Line2D([], [], color=colores[k], lw=1.2) for k in series_claves]
            ax.legend(handles, series_nombres, loc='upper left',
                      bbox_to_anchor=(150/W, 1 - 21/H), bbox_transform=fig.transFigure,
                      frameon=False, fontsize=6.8, handlelength=0.8, handletextpad=0.3,
                      labelspacing=0.65, borderpad=0, borderaxespad=0,
                      labelcolor='#444444')
    yl = ylabel_1 if r == 0 else ylabel_2
    fig.text(35/W, 1 - (tops[r] + bottoms[r])/2/H, yl, rotation=90, ha='center',
             va='center', fontsize=8.2, color='#444444', linespacing=1.35)

# %% flecha roja superpuesta

ov = fig.add_axes([0, 0, 1, 1], zorder=20)
ov.set_xlim(0, W)
ov.set_ylim(H, 0)
ov.axis('off')
ov.patch.set_alpha(0)

P = np.array([[668, 585], [626, 470], [660, 392], [792, 388]], float)
t = np.linspace(0, 1, 80)[:, None]
curva = ((1 - t)**3)*P[0] + 3*((1 - t)**2)*t*P[1] + 3*(1 - t)*(t**2)*P[2] + (t**3)*P[3]
segs = np.stack([curva[:-1], curva[1:]], axis=1)
anchos = (3.5 + 11.5*np.clip(t[:-1, 0]/0.4, 0, 1)**0.7)*0.72
ov.add_collection(LineCollection(segs, linewidths=anchos, colors='#e3141b',
                                 capstyle='round', joinstyle='round'))
ov.add_patch(Polygon([[767, 351], [844, 382], [780, 439]], closed=True,
                     facecolor='#e3141b', edgecolor='#e3141b', lw=3.5, joinstyle='round'))

fig.savefig('out.png', dpi=100)
